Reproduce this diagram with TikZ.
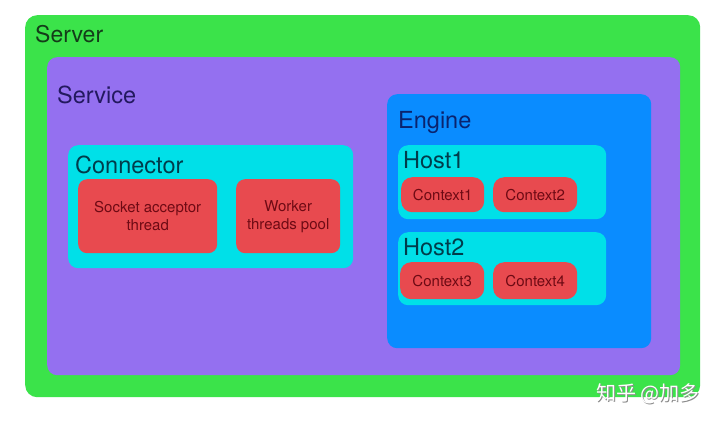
\documentclass[tikz,border=0pt]{standalone}
\usepackage{fontspec}
\setmainfont{TeX Gyre Heros}
\newfontfamily\cjk{Noto Sans CJK SC}
\definecolor{cgreen}{RGB}{59,227,74}
\definecolor{cpurple}{RGB}{148,112,240}
\definecolor{ccyan}{RGB}{0,224,232}
\definecolor{cblue}{RGB}{10,140,255}
\definecolor{cred}{RGB}{232,74,79}
\definecolor{tgreen}{RGB}{20,60,25}
\definecolor{tpurple}{RGB}{35,25,95}
\definecolor{tcyan}{RGB}{0,60,75}
\definecolor{tblue}{RGB}{10,35,110}
\definecolor{tred}{RGB}{110,10,20}
\tikzset{
  panel/.style={rounded corners=#1, inner sep=0pt, anchor=north west, draw=none},
  big/.style={anchor=base west, inner sep=0pt, font=\fontsize{23.5}{25}\selectfont},
  redbox/.style={panel=9pt, fill=cred},
  smalltxt/.style={align=center, inner sep=0pt, text=tred, font=\fontsize{15}{18}\selectfont},
}
\begin{document}
\begin{tikzpicture}[x=1pt,y=-1pt]
\useasboundingbox (0,0) rectangle (720,424);
\fill[white] (0,0) rectangle (720,424);
% containers
\node[panel=12pt, fill=cgreen, minimum width=675, minimum height=382] (server) at (25,15) {};
\node[panel=10pt, fill=cpurple, minimum width=633, minimum height=318] (service) at (47,57) {};
\node[panel=10pt, fill=ccyan, minimum width=285, minimum height=123] (connector) at (68,145) {};
\node[panel=10pt, fill=cblue, minimum width=264, minimum height=254] (engine) at (387,94) {};
\node[panel=10pt, fill=ccyan, minimum width=208, minimum height=74] (host1) at (398,145) {};
\node[panel=10pt, fill=ccyan, minimum width=208, minimum height=73] (host2) at (398,232) {};
% red boxes
\node[redbox, minimum width=139, minimum height=74] (socket) at (78,179) {};
\node[redbox, minimum width=104, minimum height=74] (worker) at (236,179) {};
\node[redbox, panel=11pt, minimum width=83, minimum height=35] (ctx1) at (401,177) {};
\node[redbox, panel=11pt, minimum width=84, minimum height=35] (ctx2) at (493,177) {};
\node[redbox, panel=11pt, minimum width=84, minimum height=37] (ctx3) at (400,262) {};
\node[redbox, panel=11pt, minimum width=84, minimum height=37] (ctx4) at (493,262) {};
% titles
\node[big, text=tgreen, font=\fontsize{23}{25}\selectfont] (tserver) at (35,42) {Server};
\node[big, text=tpurple] (tservice) at (57,103) {Service};
\node[big, text=tcyan] (tconnector) at (75,173) {Connector};
\node[big, text=tblue] (tengine) at (398,128) {Engine};
\node[big, text=tcyan] (thost1) at (403,168) {Host1};
\node[big, text=tcyan] (thost2) at (403,255) {Host2};
% red texts
\node[smalltxt] (lsocket) at (socket.center) {Socket acceptor\\thread};
\node[smalltxt] (lworker) at (worker.center) {Worker\\threads pool};
\node[smalltxt] (lctx1) at (ctx1.center) {Context1};
\node[smalltxt] (lctx2) at (ctx2.center) {Context2};
\node[smalltxt] (lctx3) at (ctx3.center) {Context3};
\node[smalltxt] (lctx4) at (ctx4.center) {Context4};
% watermark
\node[anchor=east, inner sep=0pt, text=black!45, font=\cjk\fontsize{20}{22}\selectfont] (wmshadow) at (701,395) {知乎 @加多};
\node[anchor=east, inner sep=0pt, text=white, font=\cjk\fontsize{20}{22}\selectfont] (wm) at (700,394) {知乎 @加多};
\end{tikzpicture}
\end{document}
